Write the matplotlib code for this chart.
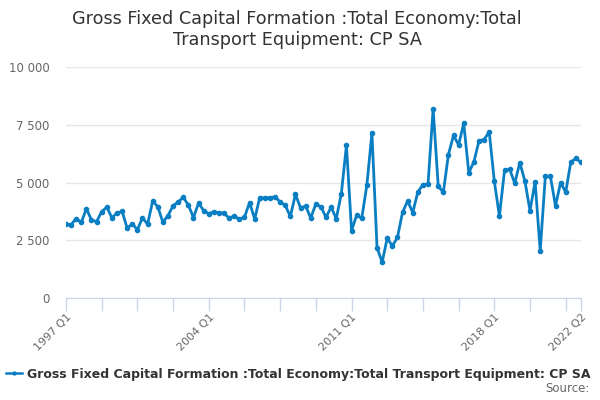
import numpy as np
import matplotlib
matplotlib.use("Agg")
import matplotlib.pyplot as plt
from matplotlib.ticker import FuncFormatter

#%% data
start_year = 1997
n_quarters = 102  # 1997 Q1 .. 2022 Q2

values = [
    3190, 3180, 3440, 3270, 3870, 3370, 3310, 3740, 3930, 3480,
    3670, 3760, 3020, 3220, 2950, 3480, 3190, 4200, 3950, 3280,
    3570, 3990, 4160, 4360, 4020, 3480, 4110, 3780, 3650, 3740,
    3680, 3680, 3450, 3560, 3400, 3500, 4130, 3420, 4350, 4330,
    4350, 4370, 4160, 4010, 3530, 4490, 3900, 3980, 3460, 4080,
    3940, 3490, 3940, 3430, 4520, 6610, 2920, 3580, 3450, 4880,
    7140, 2180, 1550, 2590, 2250, 2620, 3710, 4200, 3700, 4590,
    4910, 4930, 8190, 4850, 4570, 6210, 7040, 6630, 7560, 5420,
    5900, 6810, 6860, 7190, 5060, 3540, 5520, 5580, 4970, 5860,
    5060, 3780, 5030, 2040, 5260, 5260, 3990, 5000, 4580, 5890,
    6040, 5870,
]

labels = [f"{start_year + i // 4} Q{i % 4 + 1}" for i in range(n_quarters)]
label_idx = [0, 28, 56, 84, 101]
minor_idx = list(range(0, n_quarters, 7)) + [101]

title = "Gross Fixed Capital Formation :Total Economy:Total\nTransport Equipment: CP SA"
series_name = "Gross Fixed Capital Formation :Total Economy:Total Transport Equipment: CP SA"

#%% plot
fig = plt.figure(figsize=(6, 4), dpi=100)
ax = fig.add_axes([66 / 600, 1 - 298 / 400, (581 - 66) / 600, (298 - 67) / 400])

x = np.arange(len(values))
line, = ax.plot(x, values, color="#0a7ec2", lw=2, marker="o", ms=3, zorder=3,
                label=series_name)

ax.set_xlim(0, 101)
ax.set_ylim(0, 10000)
ax.set_yticks([0, 2500, 5000, 7500, 10000])
ax.yaxis.set_major_formatter(FuncFormatter(lambda v, p: f"{int(v):,}".replace(",", " ")))
ax.grid(axis="y", color="#e6e6e6", lw=1)
ax.set_axisbelow(True)

ax.set_xticks(minor_idx)
ax.set_xticklabels([labels[i] if i in label_idx else "" for i in minor_idx],
                   rotation=45, ha="right", rotation_mode="anchor")

for s in ["top", "right", "left"]:
    ax.spines[s].set_visible(False)
ax.spines["bottom"].set_color("#ccd6eb")
ax.tick_params(axis="x", colors="#ccd6eb", length=9, width=1, labelcolor="#666666",
               labelsize=8, pad=1)
ax.tick_params(axis="y", length=0, labelcolor="#666666", labelsize=8.5, pad=12)

fig.suptitle(title, x=0.495, y=0.975, fontsize=12.7, color="#333333", linespacing=1.2)

leg = fig.legend(handles=[line], loc="lower center", bbox_to_anchor=(0.497, 0.02),
                 frameon=False, prop={"weight": "bold", "size": 9},
                 handlelength=1.3, handletextpad=0.4, markerscale=0.7)
for t in leg.get_texts():
    t.set_color("#333333")
leg.get_lines()[0].set_linewidth(1.8)

fig.text(0.982, 0.012, "Source:", ha="right", va="bottom", fontsize=8.5, color="#666666")

fig.savefig("out.png", dpi=100)
